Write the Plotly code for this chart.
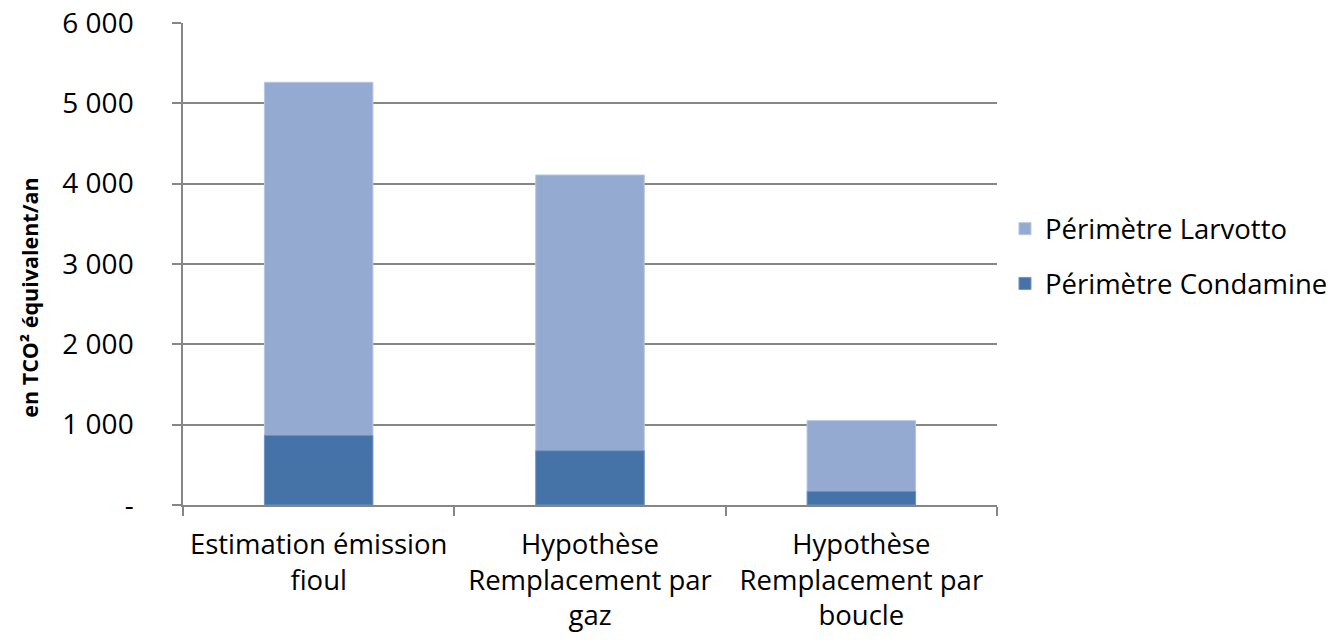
import plotly.graph_objects as go

categories = ["Estimation émission<br>fioul", "Hypothèse<br>Remplacement par<br>gaz", "Hypothèse<br>Remplacement par<br>boucle"]
condamine = [867, 676, 170]
larvotto = [4395, 3432, 880]
ytickvals = [0, 1000, 2000, 3000, 4000, 5000, 6000]
yticktext = ["-", "1 000", "2 000", "3 000", "4 000", "5 000", "6 000"]

FONT = "Open Sans"
FS = 27.5

fig = go.Figure()
fig.add_trace(go.Bar(x=categories, y=larvotto, base=condamine, name="Périmètre Larvotto",
                     marker=dict(color="#95AAD0", line=dict(color="#B5C6E2", width=1)),
                     legendgroup="l"))
fig.add_trace(go.Bar(x=categories, y=condamine, name="Périmètre Condamine",
                     marker=dict(color="#4573A7", line=dict(color="#6F93C0", width=1)),
                     legendgroup="c"))

fig.update_layout(
    width=1335, height=641,
    barmode="overlay", bargap=0.6,
    paper_bgcolor="white", plot_bgcolor="white",
    margin=dict(l=183, r=338, t=23, b=136, autoexpand=False),
    font=dict(family=FONT, size=FS, color="black"),
    showlegend=True,
    legend=dict(x=1.0098, xanchor="left", y=0.516, yanchor="middle",
                traceorder="grouped", tracegroupgap=16,
                font=dict(family=FONT, size=FS), itemwidth=30),
    xaxis=dict(showline=True, linecolor="#868686", linewidth=1.5,
               ticks="outside", tickson="boundaries", ticklen=9, tickcolor="#868686",
               tickwidth=1.5, showgrid=False, tickfont=dict(size=FS),
               ticklabelstandoff=14, ticklabeloverflow="allow"),
    yaxis=dict(range=[0, 6000], tickvals=ytickvals, ticktext=yticktext,
               showline=True, linecolor="#868686", linewidth=1.5,
               ticks="outside", ticklen=9, tickcolor="#868686", tickwidth=1.5,
               showgrid=True, gridcolor="#868686", gridwidth=1.5,
               zeroline=False, tickfont=dict(size=28), ticklabelstandoff=33,
               ticklabeloverflow="allow"),
)

fig.add_annotation(text="<b>en TCO² équivalent/an</b>", textangle=-90,
                   xref="paper", yref="paper", x=-0.188, y=0.43,
                   xanchor="center", yanchor="middle", showarrow=False,
                   font=dict(family=FONT, size=21.5, color="black"))

fig.write_html("out.html", config={"displayModeBar": False},
               post_script="document.body.style.margin='0';document.body.style.overflow='hidden';")
